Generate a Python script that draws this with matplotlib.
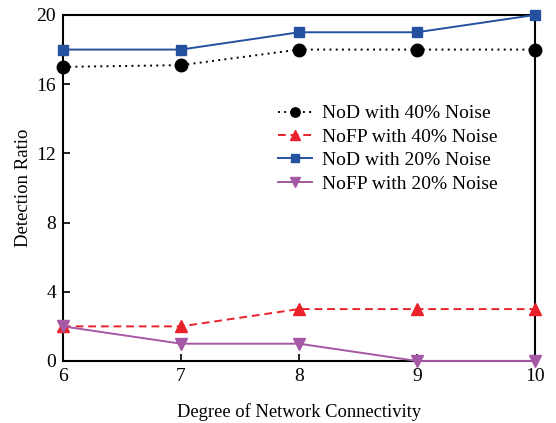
import matplotlib
matplotlib.use("Agg")
import matplotlib.pyplot as plt

plt.rcParams['font.family'] = ['Liberation Serif', 'DejaVu Serif']
plt.rcParams['mathtext.fontset'] = 'stix'

# Data
connectivity = [6, 7, 8, 9, 10]
nod_40 = [17, 17.1, 18, 18, 18]
nofp_40 = [2, 2, 3, 3, 3]
nod_20 = [18, 18, 19, 19, 20]
nofp_20 = [2, 1, 1, 0, 0]

labels = ["NoD with 40% Noise", "NoFP with 40% Noise",
          "NoD with 20% Noise", "NoFP with 20% Noise"]
x_ticks = [6, 7, 8, 9, 10]
y_ticks = [0, 4, 8, 12, 16, 20]

fig = plt.figure(figsize=(5.56, 4.23), dpi=100)
ax = fig.add_axes([0.1133, 0.1466, 0.8487, 0.818])

ax.plot(connectivity, nod_40, color='black', linestyle=(0, (1, 2.2)), linewidth=1.4,
        marker='o', markersize=9, label=labels[0], clip_on=False, zorder=3)
ax.plot(connectivity, nofp_40, color='#e8212b', linestyle=(0, (4, 2.5)), linewidth=1.4,
        marker='^', markersize=9, label=labels[1], clip_on=False, zorder=3)
ax.plot(connectivity, nod_20, color='#2452a0', linestyle='-', linewidth=1.4,
        marker='s', markersize=7.5, label=labels[2], clip_on=False, zorder=4)
ax.plot(connectivity, nofp_20, color='#a558a4', linestyle='-', linewidth=1.4,
        marker='v', markersize=9, label=labels[3], clip_on=False, zorder=4)

ax.set_xlim(6, 10)
ax.set_ylim(0, 20)
ax.set_xticks(x_ticks)
ax.set_yticks(y_ticks)
ax.tick_params(direction='in', length=5, width=1.2, labelsize=14,
               top=False, right=False, pad=5)
for s in ax.spines.values():
    s.set_linewidth(1.5)

ax.set_xlabel("Degree of Network Connectivity", fontsize=13.3, labelpad=13)
ax.set_ylabel("Detection Ratio", fontsize=13.5, labelpad=3)

ax.legend(loc='upper left', bbox_to_anchor=(0.426, 0.78), frameon=False,
          fontsize=14, handlelength=1.75, handletextpad=0.55, labelspacing=0.3,
          borderpad=0.2, markerscale=0.75)

fig.savefig("out.png", dpi=100)
